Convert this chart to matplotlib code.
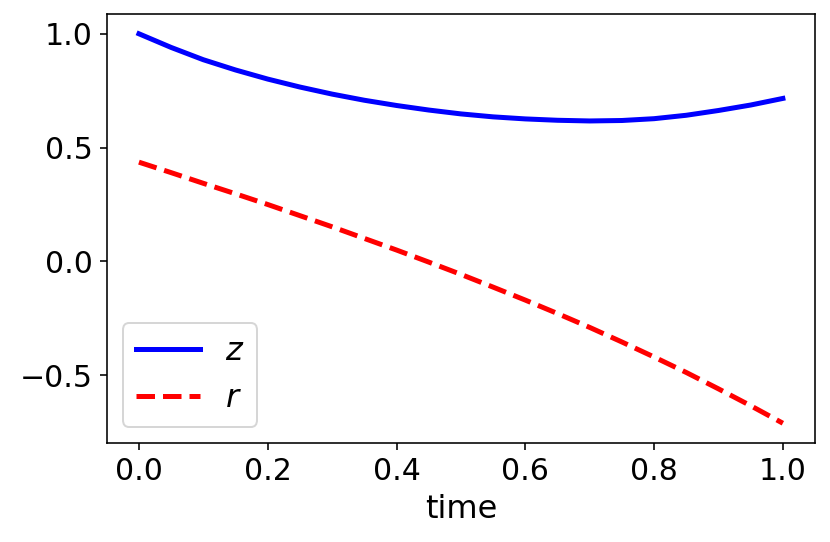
import numpy as np
import matplotlib
matplotlib.use('Agg')
import matplotlib.pyplot as plt

# time grid and curves
time = [0.00, 0.05, 0.10, 0.15, 0.20, 0.25, 0.30, 0.35, 0.40, 0.45, 0.50,
        0.55, 0.60, 0.65, 0.70, 0.75, 0.80, 0.85, 0.90, 0.95, 1.00]
z = [1.000, 0.940, 0.886, 0.841, 0.801, 0.766, 0.735, 0.708, 0.685, 0.665, 0.648,
     0.635, 0.626, 0.620, 0.617, 0.619, 0.627, 0.642, 0.663, 0.687, 0.716]
r = [0.436, 0.390, 0.343, 0.297, 0.250, 0.201, 0.152, 0.101, 0.050, -0.003, -0.057,
     -0.113, -0.170, -0.229, -0.290, -0.354, -0.420, -0.488, -0.560, -0.634, -0.711]

plt.rcParams['font.size'] = 15

fig = plt.figure(figsize=(830 / 144, 542 / 144), dpi=144)
ax = fig.add_subplot(111)
fig.subplots_adjust(left=0.1286, right=0.982, top=0.9736, bottom=0.1832)

ax.plot(time, z, color='blue', linestyle='-', linewidth=2.5, label=r'$z$')
ax.plot(time, r, color='red', linestyle='--', linewidth=2.5, label=r'$r$')

ax.set_xlabel('time', fontsize=16)
ax.legend(loc='lower left', fontsize=16)

plt.savefig('out.png', dpi=144)
